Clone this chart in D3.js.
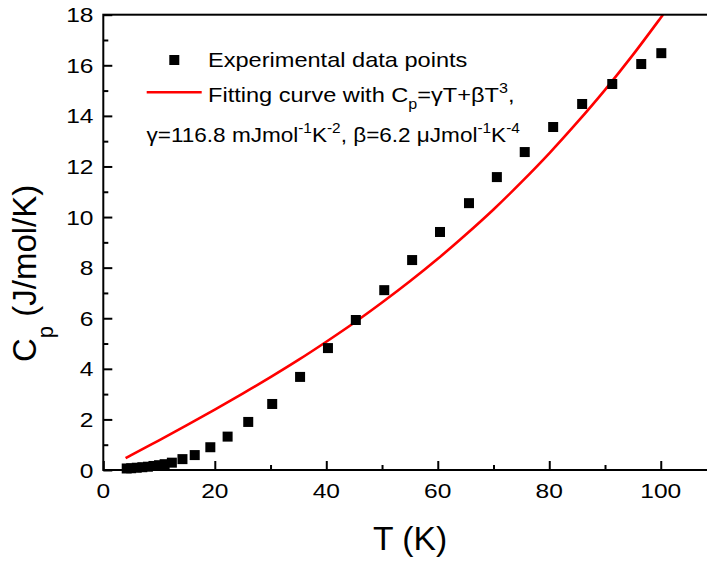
<!DOCTYPE html>
<html>
<head>
<meta charset="utf-8">
<script src="https://cdn.jsdelivr.net/npm/d3@7"></script>
<style>
  html, body { margin: 0; padding: 0; background: #fff; overflow: hidden; }
  svg { display: block; font-family: "Liberation Sans", Arial, sans-serif; }
</style>
</head>
<body>
<svg id="chart" width="707" height="563"></svg>
<script>
// ---- data ----
const expT  = [4.2, 5, 6, 7, 8, 9, 10, 11, 12.3, 14.2, 16.4, 19.2, 22.3, 26.0, 30.3, 35.3, 40.3, 45.3, 50.4, 55.4, 60.4, 65.6, 70.6, 75.6, 80.7, 85.9, 91.3, 96.5, 100.1];
const expCp = [0.06, 0.07, 0.09, 0.11, 0.13, 0.16, 0.19, 0.23, 0.29, 0.43, 0.59, 0.90, 1.32, 1.90, 2.61, 3.68, 4.82, 5.93, 7.11, 8.30, 9.41, 10.55, 11.58, 12.57, 13.56, 14.47, 15.26, 16.05, 16.48];
const fitT  = [4, 5, 10, 15, 20, 25, 30, 35, 40, 45, 50, 55, 60, 65, 70, 75, 80, 85, 90, 95, 100, 100.4];
const fitCp = [0.47, 0.59, 1.17, 1.77, 2.39, 3.02, 3.67, 4.35, 5.07, 5.82, 6.62, 7.46, 8.35, 9.30, 10.30, 11.38, 12.52, 13.74, 15.03, 16.41, 17.88, 18.0];
const xMajorTicks = [0, 20, 40, 60, 80, 100];
const xMinorTicks = [10, 30, 50, 70, 90];
const yMajorTicks = [0, 2, 4, 6, 8, 10, 12, 14, 16, 18];
const yMinorTicks = [1, 3, 5, 7, 9, 11, 13, 15, 17];

// ---- layout ----
const svg = d3.select("#chart");
const pLeft = 103.3, pTop = 14.7, pBottom = 470, pRight = 716.5;
const x = d3.scaleLinear().domain([0, 110]).range([pLeft, pRight]);
const y = d3.scaleLinear().domain([0, 18]).range([pBottom, pTop]);

svg.append("defs").append("clipPath").attr("id", "clip")
  .append("rect").attr("x", pLeft).attr("y", pTop).attr("width", pRight - pLeft).attr("height", pBottom - pTop);

// fit curve
const line = d3.line().x((d, i) => x(fitT[i])).y(d => y(d)).curve(d3.curveCatmullRom);
svg.append("path").attr("d", line(fitCp))
  .attr("fill", "none").attr("stroke", "#ff0000").attr("stroke-width", 2.6)
  .attr("clip-path", "url(#clip)");

// experimental points
const ms = 10;
svg.append("g").selectAll("rect").data(expCp).join("rect")
  .attr("x", (d, i) => x(expT[i]) - ms / 2)
  .attr("y", d => y(d) - ms / 2)
  .attr("width", ms).attr("height", ms).attr("fill", "#000");

// frame
svg.append("rect").attr("x", pLeft).attr("y", pTop).attr("width", pRight - pLeft).attr("height", pBottom - pTop)
  .attr("fill", "none").attr("stroke", "#000").attr("stroke-width", 2);

// axes (inward ticks)
const xAxis = svg.append("g").attr("transform", `translate(0,${pBottom})`)
  .call(d3.axisTop(x).tickValues(xMajorTicks).tickSize(9).tickFormat(""));
const xAxisMinor = svg.append("g").attr("transform", `translate(0,${pBottom})`)
  .call(d3.axisTop(x).tickValues(xMinorTicks).tickSize(5).tickFormat(""));
const yAxis = svg.append("g").attr("transform", `translate(${pLeft},0)`)
  .call(d3.axisRight(y).tickValues(yMajorTicks).tickSize(9).tickFormat(""));
const yAxisMinor = svg.append("g").attr("transform", `translate(${pLeft},0)`)
  .call(d3.axisRight(y).tickValues(yMinorTicks).tickSize(5).tickFormat(""));
[xAxis, xAxisMinor, yAxis, yAxisMinor].forEach(g => {
  g.select(".domain").remove();
  g.selectAll(".tick line").attr("stroke", "#000").attr("stroke-width", 2);
});

// helper for horizontally stretched text
function stext(px, py, sx, size, anchor) {
  return svg.append("g").attr("transform", `translate(${px},${py}) scale(${sx},1)`)
    .append("text").attr("x", 0).attr("y", 0)
    .attr("font-size", size).attr("text-anchor", anchor || "start").attr("fill", "#000");
}

// tick labels
xMajorTicks.forEach(v => stext(x(v), 498, 1.17, 21, "middle").text(v));
yMajorTicks.forEach(v => stext(93.5, y(v) + 7.5, 1.17, 21, "end").text(v));

// axis titles
stext(410, 550, 1.02, 33, "middle").text("T (K)");
const yt = svg.append("g").attr("transform", "translate(36,362) rotate(-90)")
  .append("text").attr("font-size", 33).attr("fill", "#000");
yt.append("tspan").text("C");
yt.append("tspan").attr("font-size", 22).attr("dy", 17).text("p");
yt.append("tspan").attr("dy", -17).text(" (J/mol/K)");

// legend
svg.append("rect").attr("x", 174.3 - ms / 2).attr("y", 60 - ms / 2).attr("width", ms).attr("height", ms).attr("fill", "#000");
svg.append("line").attr("x1", 146.7).attr("x2", 201.7).attr("y1", 92.3).attr("y2", 92.3)
  .attr("stroke", "#ff0000").attr("stroke-width", 2.6);

const lsx = 1.15, lfs = 20.5;
stext(208, 67, lsx, lfs).text("Experimental data points");
const t2 = stext(208, 102, lsx, lfs);
t2.append("tspan").text("Fitting curve with C");
t2.append("tspan").attr("font-size", 14).attr("dy", 7).text("p");
t2.append("tspan").attr("dy", -7).text("=γT+βT");
t2.append("tspan").attr("font-size", 14).attr("dy", -9).text("3");
t2.append("tspan").attr("dy", 9).text(",");
const t3 = stext(146.5, 142, 1.1, lfs);
t3.append("tspan").text("γ=116.8 mJmol");
t3.append("tspan").attr("font-size", 14).attr("dy", -9).text("-1");
t3.append("tspan").attr("dy", 9).text("K");
t3.append("tspan").attr("font-size", 14).attr("dy", -9).text("-2");
t3.append("tspan").attr("dy", 9).text(", β=6.2 μJmol");
t3.append("tspan").attr("font-size", 14).attr("dy", -9).text("-1");
t3.append("tspan").attr("dy", 9).text("K");
t3.append("tspan").attr("font-size", 14).attr("dy", -9).text("-4");
</script>
</body>
</html>
